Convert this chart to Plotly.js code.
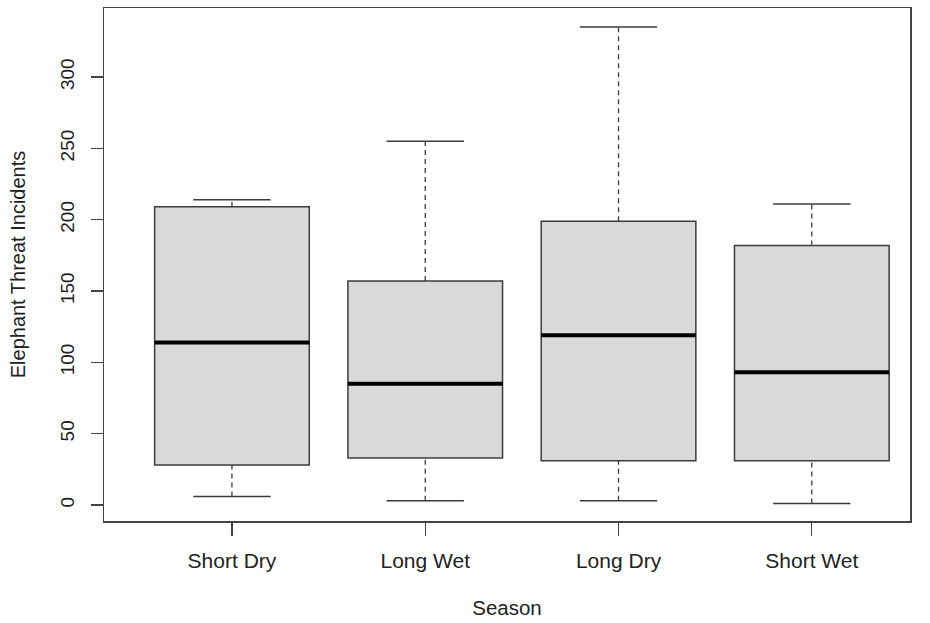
<!DOCTYPE html>
<html><head><meta charset="utf-8">
<script src="https://cdn.plot.ly/plotly-3.0.1.min.js"></script>
<style>html,body{margin:0;padding:0;background:#fff}</style>
</head><body><div id="chart" style="width:930px;height:623px"></div>
<script>
const seasons = ["Short Dry", "Long Wet", "Long Dry", "Short Wet"];
const positions = [1, 2, 3, 4];
const lowerWhisker = [6, 3, 3, 1];
const q1 = [28, 33, 31, 31];
const median = [114, 85, 119, 93];
const q3 = [209, 157, 199, 182];
const upperWhisker = [214, 255, 335, 211];
const yTicks = [0, 50, 100, 150, 200, 250, 300];

const boxWidth = 0.8, capHalf = 0.2;
const lineCol = '#3c3c3c';
const font = 'Liberation Sans, Arial, Helvetica, sans-serif';

function segs(fn) {
  const xs = [], ys = [];
  positions.forEach((p, i) => { const s = fn(p, i); xs.push(s[0], s[1], null); ys.push(s[2], s[3], null); });
  return {x: xs, y: ys};
}
const whiskUp = segs((p, i) => [p, p, q3[i], upperWhisker[i]]);
const whiskLo = segs((p, i) => [p, p, lowerWhisker[i], q1[i]]);
const capUp = segs((p, i) => [p - capHalf, p + capHalf, upperWhisker[i], upperWhisker[i]]);
const capLo = segs((p, i) => [p - capHalf, p + capHalf, lowerWhisker[i], lowerWhisker[i]]);
const med = segs((p, i) => [p - boxWidth / 2, p + boxWidth / 2, median[i], median[i]]);

const traces = [
  {type: 'scatter', mode: 'lines', x: whiskUp.x, y: whiskUp.y, line: {color: lineCol, width: 1.3, dash: '5px,4px'}, hoverinfo: 'skip'},
  {type: 'scatter', mode: 'lines', x: whiskLo.x, y: whiskLo.y, line: {color: lineCol, width: 1.3, dash: '5px,4px'}, hoverinfo: 'skip'},
  {type: 'box', x: positions, q1: q1, median: median, q3: q3, lowerfence: q1, upperfence: q3,
   width: boxWidth, fillcolor: '#d9d9d9', line: {color: lineCol, width: 1.5}, boxpoints: false, whiskerwidth: 0},
  {type: 'scatter', mode: 'lines', x: capUp.x, y: capUp.y, line: {color: lineCol, width: 1.5}, hoverinfo: 'skip'},
  {type: 'scatter', mode: 'lines', x: capLo.x, y: capLo.y, line: {color: lineCol, width: 1.5}, hoverinfo: 'skip'},
  {type: 'scatter', mode: 'lines', x: med.x, y: med.y, line: {color: '#000', width: 4}, hoverinfo: 'skip'}
];

const layout = {
  width: 930, height: 623,
  margin: {l: 104, r: 20, t: 8, b: 102},
  paper_bgcolor: '#fff', plot_bgcolor: '#fff',
  showlegend: false,
  font: {family: font, color: '#222', size: 20},
  xaxis: {
    range: [0.338, 4.508], tickmode: 'array', tickvals: positions, ticktext: seasons,
    ticks: 'outside', ticklen: 13, tickwidth: 1.3, tickcolor: '#444',
    showline: true, mirror: true, linecolor: '#444', linewidth: 1.5,
    showgrid: false, zeroline: false, tickfont: {size: 21, color: '#222'},
    ticklabelstandoff: 7,
    title: {text: 'Season', font: {size: 20.5, color: '#222'}, standoff: 30}
  },
  yaxis: {
    range: [-11.2, 348.4], tickmode: 'array', tickvals: yTicks,
    ticks: 'outside', ticklen: 12, tickwidth: 1.3, tickcolor: '#444', tickangle: -90,
    showline: true, mirror: true, linecolor: '#444', linewidth: 1.5,
    showgrid: false, zeroline: false, tickfont: {size: 19, color: '#222'},
    ticklabelstandoff: 9,
    title: {text: 'Elephant Threat Incidents', font: {size: 20, color: '#222'}, standoff: 26}
  }
};
Plotly.newPlot('chart', traces, layout, {displayModeBar: false, staticPlot: true});
</script></body></html>
